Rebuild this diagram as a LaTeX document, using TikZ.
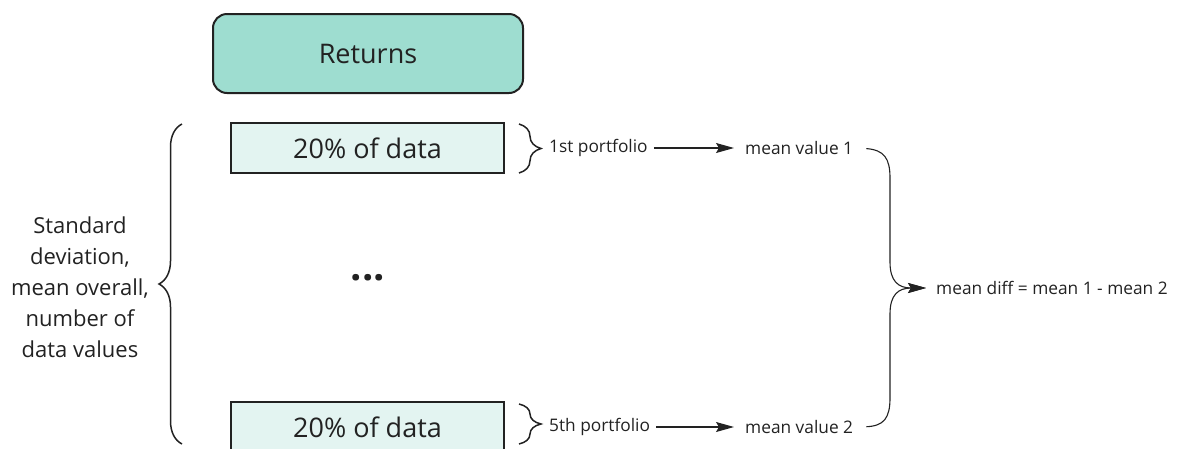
\documentclass[tikz,border=0pt]{standalone}
\usepackage{fontspec}
\setmainfont{Open Sans}
\usetikzlibrary{arrows.meta,calc,positioning,decorations.pathreplacing}
\definecolor{MintTeal}{RGB}{158,221,208}
\definecolor{PaleMint}{RGB}{227,244,241}
\definecolor{InkGray}{RGB}{34,34,34}

\begin{document}
\begin{tikzpicture}[x=1pt, y=-1pt,
    box/.style={draw=InkGray, line width=2pt, text=InkGray, inner sep=0pt, font=\fontsize{27}{32}\selectfont},
    lbl/.style={text=InkGray, font=\fontsize{17.3}{20}\selectfont, inner sep=6pt},
    curly/.style={decorate, decoration={brace, amplitude=#1}, line width=1.5pt, InkGray},
    arr/.style={-{Stealth[length=18pt, width=10pt, inset=3pt]}, line width=1.1pt, InkGray}]
  \useasboundingbox (0,0) rectangle (1178,448);
  % boxes
  \node[box, fill=MintTeal, rounded corners=14pt, minimum width=310pt, minimum height=79pt] (ret) at (368,53.5) {Returns};
  \node[box, fill=PaleMint, minimum width=273pt, minimum height=50pt] (d1) at (367.5,148) {20\% of data};
  \node[box, fill=PaleMint, minimum width=273pt, minimum height=50pt] (d5) at (367.5,427) {20\% of data};
  \node[text=InkGray, font=\fontsize{40}{40}\bfseries] (dots) at (368,278) {...};
  \node[text=InkGray, align=center, font=\fontsize{22}{31}\selectfont] (stats) at (80,287)
    {Standard\\deviation,\\mean overall,\\number of\\data values};
  % portfolios
  \node[lbl, anchor=west] (p1) at (543,148) {1st portfolio};
  \node[lbl, anchor=west] (m1) at (739,148) {mean value 1};
  \node[lbl, anchor=west] (p5) at (543,427) {5th portfolio};
  \node[lbl, anchor=west] (m5) at (739,427) {mean value 2};
  \node[lbl, anchor=west] (diff) at (930,288) {mean diff = mean 1 - mean 2};
  % braces
  \draw[curly=23pt] ($(d5.north west)+(-48,43)$) -- ($(d1.north west)+(-48,2)$);
  \draw[curly=22pt] ($(d1.north east)+(14,2)$) -- ($(d1.south east)+(14,-1)$);
  \draw[curly=22pt] ($(d5.north east)+(14,3)$) -- ($(d5.north east)+(14,43)$);
  % arrows
  \draw[arr, shorten >=5pt] (p1) -- (m1);
  \draw[arr, shorten >=5pt] (p5) -- (m5);
  \draw[arr, shorten <=7pt, shorten >=4pt] (m1.east) .. controls (884,150) and (890,158) .. (890,178)
    -- (890,262) .. controls (890,281) and (898,288) .. (diff.west);
  \draw[arr, shorten <=7pt, shorten >=4pt] (m5.east) .. controls (884,426) and (890,418) .. (890,398)
    -- (890,314) .. controls (890,295) and (898,288) .. (diff.west);
\end{tikzpicture}
\end{document}
